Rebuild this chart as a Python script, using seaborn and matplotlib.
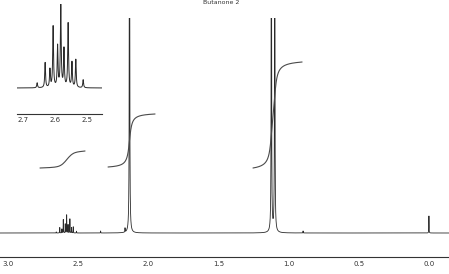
import numpy as np
import pandas as pd
import matplotlib
matplotlib.use("Agg")
import matplotlib.pyplot as plt
import seaborn as sns
from matplotlib.ticker import MultipleLocator

# ---- data ----
quartet_ppm = [2.656, 2.631, 2.616, 2.606, 2.592, 2.582, 2.572, 2.559, 2.547, 2.535, 2.512]
quartet_inset_height = [5, 25, 18, 61, 41, 82, 38, 64, 25, 28, 8]
quartet_main_scale = 0.22
singlet_ppm = [2.166, 2.134]
singlet_height = [4, 1200]
singlet_base_height = [0, 9]
triplet_ppm = [1.123, 1.099]
triplet_height = [1000, 1000]
triplet_base_height = [8, 8]
minor_ppm = [2.34, 0.897, 0.0]
minor_height = [2, 2, 17]

integral_start_ppm = [2.772, 2.287, 1.254]
integral_end_ppm = [2.451, 1.952, 0.904]
integral_start_level = [65, 66, 65]
integral_end_level = [82, 119, 171]

main_ticks = [3.0, 2.5, 2.0, 1.5, 1.0, 0.5, 0.0]
inset_ticks = [2.7, 2.6, 2.5]
title_text = "Butanone 2"

# ---- build spectrum ----
LINE_G = 0.0009
INSET_G = 0.0015
BASE_G = 0.006
INT_G = 0.013


def lorentz(x, pos, hts, g):
    y = np.zeros_like(x)
    for p, h in zip(pos, hts):
        y += h * g * g / ((x - p) ** 2 + g * g)
    return y


x = np.linspace(3.1, -0.2, 30000)
main_pos = list(quartet_ppm) + singlet_ppm + triplet_ppm + minor_ppm
main_h = [h * quartet_main_scale for h in quartet_inset_height] + singlet_height + triplet_height + minor_height
y = lorentz(x, main_pos, main_h, LINE_G)
y += lorentz(x, singlet_ppm + triplet_ppm, singlet_base_height + triplet_base_height, BASE_G)
spec = pd.DataFrame({"ppm": x, "intensity": y})

xi = np.linspace(2.725, 2.45, 6000)
yi = lorentz(xi, quartet_ppm, quartet_inset_height, INSET_G)
inset = pd.DataFrame({"ppm": xi, "intensity": yi})

integrals = []
for s, e, l0, l1 in zip(integral_start_ppm, integral_end_ppm, integral_start_level, integral_end_level):
    xr = np.linspace(s, e, 1500)
    yr = lorentz(xr, main_pos, main_h, INT_G)
    c = np.cumsum(yr)
    c = (c - c[0]) / (c[-1] - c[0])
    integrals.append(pd.DataFrame({"ppm": xr, "level": l0 + c * (l1 - l0)}))

# ---- draw ----
sns.set_style("white")
plt.rcParams["font.family"] = ["DejaVu Sans"]
W, H = 449, 274
fig = plt.figure(figsize=(W / 100, H / 100), dpi=100)

ax = fig.add_axes([0, 17 / H, 1, 239 / H])
sns.lineplot(data=spec, x="ppm", y="intensity", ax=ax, color="#2a2a2a", lw=0.6,
             estimator=None, sort=False)
for df in integrals:
    sns.lineplot(data=df, x="ppm", y="level", ax=ax, color="#4a4a4a", lw=0.8,
                 estimator=None, sort=False)
ax.set_xlim(3.057, -0.143)
ax.set_ylim(-24, 215)
for sp in ["top", "left", "right"]:
    ax.spines[sp].set_visible(False)
ax.spines["bottom"].set_color("#333333")
ax.spines["bottom"].set_linewidth(0.8)
ax.set_yticks([])
ax.set_xticks(main_ticks)
ax.set_xticklabels([f"{t:.1f}" for t in main_ticks])
ax.xaxis.set_minor_locator(MultipleLocator(0.1))
ax.tick_params(axis="x", which="major", direction="in", length=4, width=0.7,
               labelsize=5, pad=3, colors="#333333")
ax.tick_params(axis="x", which="minor", direction="in", length=2, width=0.6, colors="#333333")
ax.set_xlabel("")
ax.set_ylabel("")
ax.patch.set_alpha(0)

axi = fig.add_axes([17 / W, (H - 114) / H, 85 / W, 110 / H])
sns.lineplot(data=inset, x="ppm", y="intensity", ax=axi, color="#2a2a2a", lw=0.7,
             estimator=None, sort=False)
axi.set_xlim(2.719, 2.453)
axi.set_ylim(-26, 84)
for sp in ["top", "left", "right"]:
    axi.spines[sp].set_visible(False)
axi.spines["bottom"].set_color("#333333")
axi.spines["bottom"].set_linewidth(0.8)
axi.set_yticks([])
axi.set_xticks(inset_ticks)
axi.set_xticklabels([f"{t:.1f}" for t in inset_ticks])
axi.xaxis.set_minor_locator(MultipleLocator(0.01))
axi.tick_params(axis="x", which="major", direction="in", length=3, width=0.6,
                labelsize=5, pad=2, colors="#333333")
axi.tick_params(axis="x", which="minor", direction="in", length=1.5, width=0.5, colors="#333333")
axi.set_xlabel("")
axi.set_ylabel("")
axi.patch.set_alpha(0)

fig.text(221 / W, 1 - 0.5 / H, title_text, ha="center", va="top", fontsize=4.5, color="#333333")

fig.savefig("out.png", dpi=100)
